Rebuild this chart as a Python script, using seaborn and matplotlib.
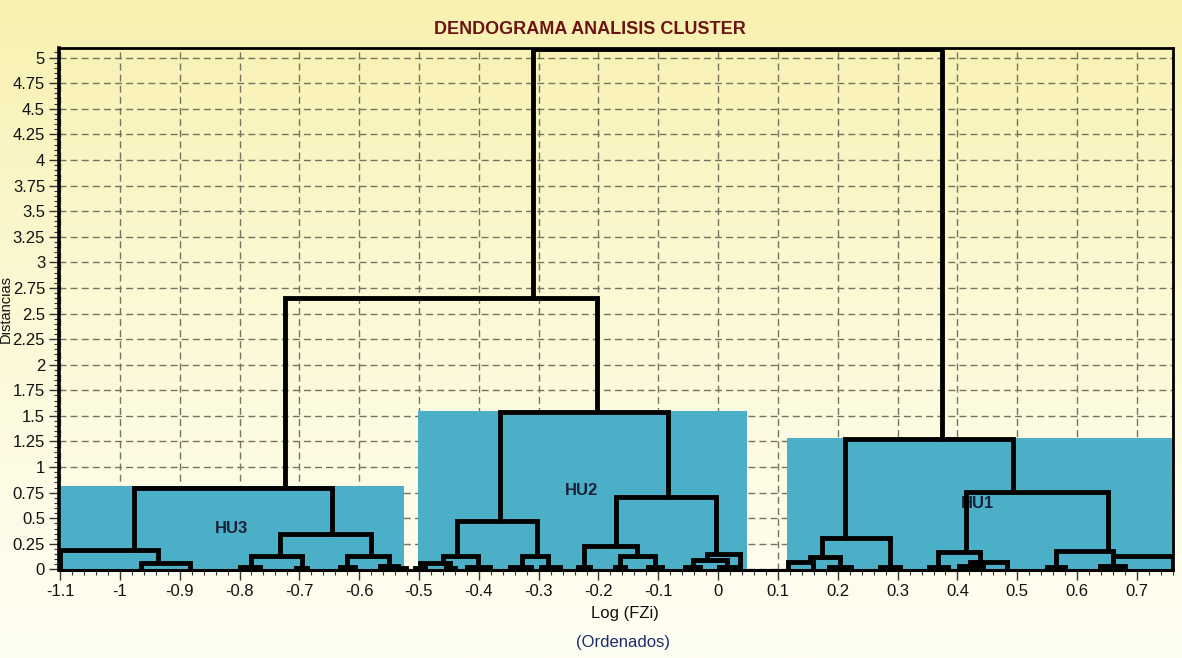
import numpy as np
import pandas as pd
import matplotlib
matplotlib.use("Agg")
import matplotlib.pyplot as plt
import seaborn as sns
from matplotlib.colors import LinearSegmentedColormap
from matplotlib.ticker import MultipleLocator

# Dendrogram links, one U-shape each: left leg x, right leg x,
# merge distance, and the distances the two legs drop down to.
link_xl = [-0.309, -0.724,
           -0.976, -1.100, -0.965, -0.732, -0.781, -0.799, -0.705, -0.620, -0.632, -0.565, -0.545,
           -0.365, -0.436, -0.460, -0.498, -0.506, -0.455, -0.420, -0.328, -0.348, -0.296,
           -0.171, -0.224, -0.234, -0.164, -0.172, -0.118, -0.019, -0.042, -0.055, 0.002,
           0.212, 0.174, 0.154, 0.117, 0.186, 0.271, 0.414, 0.367, 0.352, 0.421, 0.402,
           0.565, 0.550, 0.660, 0.638]
link_xr = [0.374, -0.202,
           -0.645, -0.936, -0.883, -0.580, -0.696, -0.766, -0.688, -0.550, -0.607, -0.535, -0.522,
           -0.084, -0.303, -0.401, -0.448, -0.490, -0.440, -0.381, -0.284, -0.312, -0.264,
           -0.004, -0.136, -0.214, -0.106, -0.156, -0.094, 0.037, 0.015, -0.030, 0.028,
           0.493, 0.287, 0.204, 0.159, 0.222, 0.304, 0.652, 0.438, 0.385, 0.483, 0.442,
           0.660, 0.580, 0.760, 0.680]
link_h = [5.08, 2.65,
          0.80, 0.195, 0.06, 0.35, 0.13, 0.02, 0.015, 0.13, 0.02, 0.03, 0.015,
          1.54, 0.47, 0.13, 0.06, 0.015, 0.015, 0.025, 0.13, 0.025, 0.025,
          0.71, 0.23, 0.02, 0.13, 0.02, 0.02, 0.15, 0.09, 0.025, 0.025,
          1.27, 0.31, 0.12, 0.07, 0.02, 0.02, 0.76, 0.17, 0.02, 0.07, 0.03,
          0.18, 0.02, 0.13, 0.03]
link_hl = [2.65, 0.80,
           0.195, 0.0, 0.0, 0.13, 0.02, 0.0, 0.0, 0.02, 0.0, 0.0, 0.0,
           0.47, 0.13, 0.06, 0.015, 0.0, 0.0, 0.0, 0.025, 0.0, 0.0,
           0.23, 0.02, 0.0, 0.02, 0.0, 0.0, 0.09, 0.025, 0.0, 0.0,
           0.31, 0.12, 0.07, 0.0, 0.0, 0.0, 0.17, 0.02, 0.0, 0.03, 0.0,
           0.02, 0.0, 0.03, 0.0]
link_hr = [1.27, 1.54,
           0.35, 0.06, 0.0, 0.13, 0.015, 0.0, 0.0, 0.03, 0.0, 0.015, 0.0,
           0.71, 0.13, 0.025, 0.015, 0.0, 0.0, 0.0, 0.025, 0.0, 0.0,
           0.15, 0.13, 0.0, 0.02, 0.0, 0.0, 0.0, 0.025, 0.0, 0.0,
           0.76, 0.02, 0.02, 0.0, 0.0, 0.0, 0.18, 0.07, 0.0, 0.0, 0.0,
           0.13, 0.0, 0.0, 0.0]

# Hydraulic units (clusters): span on the axis, shaded height and label spot
cluster_names = ["HU3", "HU2", "HU1"]
cluster_x0 = [-1.100, -0.502, 0.115]
cluster_x1 = [-0.525, 0.048, 0.759]
cluster_top = [0.82, 1.55, 1.28]
cluster_label_x = [-0.814, -0.229, 0.434]
cluster_label_y = [0.40, 0.77, 0.64]

x_ticks = [-1.1, -1.0, -0.9, -0.8, -0.7, -0.6, -0.5, -0.4, -0.3, -0.2, -0.1,
           0.0, 0.1, 0.2, 0.3, 0.4, 0.5, 0.6, 0.7]
x_tick_labels = ["-1.1", "-1", "-0.9", "-0.8", "-0.7", "-0.6", "-0.5", "-0.4", "-0.3",
                 "-0.2", "-0.1", "0", "0.1", "0.2", "0.3", "0.4", "0.5", "0.6", "0.7"]
y_ticks = [0, 0.25, 0.5, 0.75, 1, 1.25, 1.5, 1.75, 2, 2.25, 2.5, 2.75, 3, 3.25,
           3.5, 3.75, 4, 4.25, 4.5, 4.75, 5]
y_tick_labels = ["0", "0.25", "0.5", "0.75", "1", "1.25", "1.5", "1.75", "2", "2.25",
                 "2.5", "2.75", "3", "3.25", "3.5", "3.75", "4", "4.25", "4.5", "4.75", "5"]

sns.set_theme(style="ticks")
plt.rcParams["font.family"] = ["Liberation Sans", "DejaVu Sans"]
plt.rcParams["axes.unicode_minus"] = False

W, H = 1182, 658
fig = plt.figure(figsize=(W / 100, H / 100), dpi=100)

# pale yellow backdrop fading downwards
bg = fig.add_axes([0, 0, 1, 1], zorder=-10)
grad = np.linspace(0, 1, 256).reshape(-1, 1)
bg_cmap = LinearSegmentedColormap.from_list("bg", ["#F8F1B0", "#FCF9D8", "#FFFEF3"])
bg.imshow(grad, aspect="auto", cmap=bg_cmap, extent=[0, 1, 0, 1], origin="upper")
bg.axis("off")

ax = fig.add_axes([59 / W, 88 / H, 1114 / W, 522 / H])
ax.set_facecolor("none")

# shaded cluster blocks
ax.bar(cluster_x0, cluster_top, width=np.subtract(cluster_x1, cluster_x0),
       align="edge", color="#4AAFC7", linewidth=0, zorder=1.5)
for name, lx, ly in zip(cluster_names, cluster_label_x, cluster_label_y):
    ax.text(lx, ly, name, ha="center", va="center", fontsize=12,
            fontweight="bold", color="#1B2238", zorder=2.5)

# dendrogram links as long-form segments
rows = []
for i, (xl, xr, h, hl, hr) in enumerate(zip(link_xl, link_xr, link_h, link_hl, link_hr)):
    for step, (px, py) in enumerate([(xl, hl), (xl, h), (xr, h), (xr, hr)]):
        rows.append({"link": i, "step": step, "x": px, "dist": py})
links = pd.DataFrame(rows)
sns.lineplot(data=links, x="x", y="dist", units="link", estimator=None, sort=False,
             color="black", linewidth=3.5, legend=False, ax=ax, zorder=3,
             solid_joinstyle="miter")

ax.set_xlim(-1.1017, 0.7603)
ax.set_ylim(-0.005, 5.093)
ax.set_xticks(x_ticks, x_tick_labels)
ax.set_yticks(y_ticks, y_tick_labels)
ax.xaxis.set_minor_locator(MultipleLocator(0.02))
ax.yaxis.set_minor_locator(MultipleLocator(0.05))
ax.tick_params(which="major", direction="out", length=7, width=1, color="#333333",
               labelsize=12, labelcolor="#111111", pad=3)
ax.tick_params(which="minor", direction="out", length=3.5, width=0.8, color="#333333")
ax.grid(True, which="major", linestyle=(0, (5, 3)), color="#74745F", linewidth=1)
ax.set_axisbelow(True)

for side, lw in [("left", 2.6), ("bottom", 2.2), ("top", 2.0), ("right", 2.0)]:
    ax.spines[side].set_visible(True)
    ax.spines[side].set_color("black")
    ax.spines[side].set_linewidth(lw)

# axis titles; the distance title sits at the far left, clear of the tick labels
ax.set_ylabel("Distancias", fontsize=10.5, color="#111111", va="center", ha="center")
ax.yaxis.set_label_coords(-53 / 1114, 0.5)
ax.set_xlabel("Log (FZi)", fontsize=12, color="#111111", va="center", ha="center")
ax.xaxis.set_label_coords(0.508, -0.084)

fig.text(590 / W, 1 - 29 / H, "DENDOGRAMA ANALISIS CLUSTER", ha="center", va="center",
         fontsize=13, fontweight="bold", color="#6A1414")
fig.text(623 / W, 1 - 642 / H, "(Ordenados)", ha="center", va="center",
         fontsize=12, color="#1C2C6C")

fig.savefig("out.png", dpi=100)
